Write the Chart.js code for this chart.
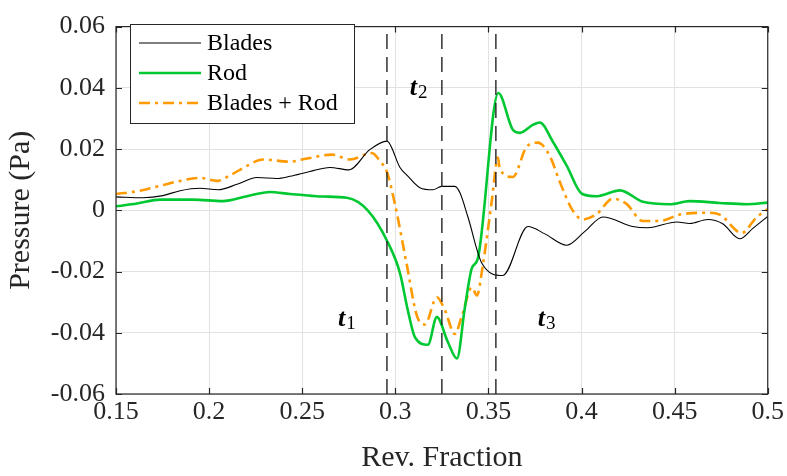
<!DOCTYPE html>
<html>
<head>
<meta charset="utf-8">
<script src="https://cdn.jsdelivr.net/npm/chart.js@4.4.1/dist/chart.umd.min.js"></script>
<style>
  html, body { margin: 0; padding: 0; background: #fff; }
  canvas { display: block; }
</style>
</head>
<body>
<canvas id="grafico" width="787" height="476"></canvas>
<script>
// Datos
const bladesX = [0.15, 0.1645, 0.1752, 0.1844, 0.1951, 0.2048, 0.2150, 0.2257, 0.2364, 0.2434, 0.2541, 0.2649, 0.2751, 0.2863, 0.2955, 0.3025, 0.3062, 0.3132, 0.3202, 0.3248, 0.3320, 0.3347, 0.3390, 0.3465, 0.3577, 0.3712, 0.3803, 0.3921, 0.4018, 0.4115, 0.4275, 0.4356, 0.4512, 0.4581, 0.4678, 0.4758, 0.4850, 0.4920, 0.5];
const bladesY = [0.0044, 0.0041, 0.0048, 0.0064, 0.0072, 0.0067, 0.0085, 0.0107, 0.0104, 0.0111, 0.0127, 0.0140, 0.0132, 0.0198, 0.0226, 0.0140, 0.0115, 0.0074, 0.0067, 0.0078, 0.0078, 0.0057, -0.0022, -0.0173, -0.0213, -0.0053, -0.0077, -0.0114, -0.0069, -0.0022, -0.0053, -0.0057, -0.0038, -0.0043, -0.0030, -0.0044, -0.0093, -0.0059, -0.0020];

const rodX = [0.15, 0.1613, 0.1736, 0.1913, 0.2074, 0.2203, 0.2327, 0.2434, 0.2541, 0.2611, 0.2740, 0.2853, 0.2960, 0.3025, 0.3067, 0.3105, 0.3175, 0.3223, 0.3282, 0.3331, 0.3373, 0.3411, 0.3443, 0.3553, 0.3631, 0.3669, 0.3738, 0.3776, 0.3846, 0.3921, 0.4002, 0.4082, 0.4206, 0.4329, 0.4474, 0.4581, 0.4742, 0.4887, 0.5];
const rodY = [0.0013, 0.0022, 0.0035, 0.0035, 0.0030, 0.0046, 0.0060, 0.0053, 0.0048, 0.0045, 0.0041, -0.0001, -0.0105, -0.0205, -0.0326, -0.0414, -0.0439, -0.0349, -0.0430, -0.0484, -0.0320, -0.0189, -0.0158, 0.0383, 0.0263, 0.0253, 0.0279, 0.0287, 0.0224, 0.0145, 0.0054, 0.0046, 0.0065, 0.0028, 0.0020, 0.0030, 0.0024, 0.0020, 0.0025];

const sumX = [0.15, 0.1629, 0.1736, 0.1844, 0.1951, 0.2042, 0.2112, 0.2203, 0.2289, 0.2434, 0.2525, 0.2660, 0.2756, 0.2874, 0.2917, 0.2955, 0.2998, 0.3062, 0.3116, 0.3159, 0.3223, 0.3266, 0.3320, 0.3357, 0.3411, 0.3438, 0.3470, 0.3518, 0.3551, 0.3561, 0.3631, 0.3706, 0.3765, 0.3830, 0.3883, 0.3953, 0.4007, 0.4082, 0.4168, 0.4243, 0.4329, 0.4420, 0.4528, 0.4673, 0.4742, 0.4860, 0.4941, 0.5];
const sumY = [0.0053, 0.0064, 0.0080, 0.0096, 0.0106, 0.0096, 0.0114, 0.0145, 0.0166, 0.0159, 0.0169, 0.0182, 0.0166, 0.0187, 0.0161, 0.0125, 0.0020, -0.0179, -0.0345, -0.0373, -0.0284, -0.0326, -0.0404, -0.0346, -0.0252, -0.0278, -0.0179, 0.0030, 0.0172, 0.0135, 0.0109, 0.0208, 0.0221, 0.0177, 0.0093, -0.0001, -0.0030, -0.0012, 0.0038, 0.0020, -0.0035, -0.0035, -0.0014, -0.0008, -0.0014, -0.0074, -0.0022, 0.0004];

const nombres = ["Blades", "Rod", "Blades + Rod"];
const xTicks = [0.15, 0.2, 0.25, 0.3, 0.35, 0.4, 0.45, 0.5];
const xTickLabels = ["0.15", "0.2", "0.25", "0.3", "0.35", "0.4", "0.45", "0.5"];
const yTicks = [-0.06, -0.04, -0.02, 0, 0.02, 0.04, 0.06];
const yTickLabels = ["-0.06", "-0.04", "-0.02", "0", "0.02", "0.04", "0.06"];

// Instantes marcados con lineas verticales
const tMarks = [0.2955, 0.325, 0.354];
const tNames = ["1", "2", "3"];
const tLabelX = [0.2692, 0.3078, 0.3765];
const tLabelY = [-0.0377, 0.0377, -0.0377];

const FONT = "'Liberation Serif', 'Times New Roman', serif";
const pares = (xs, ys) => xs.map((x, i) => ({ x: x, y: ys[i] }));

const datasets = [
  { label: nombres[0], data: pares(bladesX, bladesY), borderColor: "#000000", borderWidth: 1.1 },
  { label: nombres[1], data: pares(rodX, rodY), borderColor: "#00c832", borderWidth: 2.6 },
  { label: nombres[2], data: pares(sumX, sumY), borderColor: "#ff9a00", borderWidth: 2.6, borderDash: [11, 5, 3, 5] }
].map(d => Object.assign(d, { pointRadius: 0, fill: false, cubicInterpolationMode: "monotone" }));

tMarks.forEach(t => {
  datasets.push({
    label: "",
    data: [{ x: t, y: yTicks[0] }, { x: t, y: yTicks[yTicks.length - 1] }],
    borderColor: "#222222", borderWidth: 1.4, borderDash: [15, 8],
    pointRadius: 0, fill: false, order: -1
  });
});

// Caja, ticks interiores, etiquetas t y leyenda
const decoracion = {
  id: "decoracion",
  afterDatasetsDraw(chart) {
    const { ctx, chartArea: a, scales } = chart;
    ctx.save();
    ctx.strokeStyle = "#262626";
    ctx.lineWidth = 1.2;
    ctx.strokeRect(a.left, a.top, a.right - a.left, a.bottom - a.top);
    const L = 6;
    ctx.beginPath();
    xTicks.forEach(v => {
      const px = Math.round(scales.x.getPixelForValue(v)) + 0.5;
      ctx.moveTo(px, a.bottom); ctx.lineTo(px, a.bottom - L);
      ctx.moveTo(px, a.top); ctx.lineTo(px, a.top + L);
    });
    yTicks.forEach(v => {
      const py = Math.round(scales.y.getPixelForValue(v)) + 0.5;
      ctx.moveTo(a.left, py); ctx.lineTo(a.left + L, py);
      ctx.moveTo(a.right, py); ctx.lineTo(a.right - L, py);
    });
    ctx.stroke();

    // etiquetas t1, t2, t3
    ctx.fillStyle = "#000";
    ctx.textBaseline = "alphabetic";
    ctx.textAlign = "left";
    tNames.forEach((n, i) => {
      const px = scales.x.getPixelForValue(tLabelX[i]);
      const py = scales.y.getPixelForValue(tLabelY[i]);
      ctx.font = "italic bold 26px " + FONT;
      ctx.fillText("t", px, py);
      const w = ctx.measureText("t").width;
      ctx.font = "19px " + FONT;
      ctx.fillText(n, px + w + 1, py + 3);
    });

    // leyenda
    const bx = 130, by = 24, bw = 224, bh = 99;
    ctx.fillStyle = "#fff";
    ctx.fillRect(bx, by, bw, bh);
    ctx.strokeStyle = "#262626";
    ctx.lineWidth = 1;
    ctx.setLineDash([]);
    ctx.strokeRect(bx + 0.5, by + 0.5, bw, bh);
    ctx.font = "24px " + FONT;
    ctx.textBaseline = "middle";
    [0, 1, 2].forEach(i => {
      const d = chart.data.datasets[i];
      const yy = by + 19 + i * 30;
      ctx.strokeStyle = d.borderColor;
      ctx.lineWidth = d.borderWidth;
      ctx.setLineDash(d.borderDash || []);
      ctx.beginPath();
      ctx.moveTo(bx + 9, yy); ctx.lineTo(bx + 71, yy);
      ctx.stroke();
      ctx.setLineDash([]);
      ctx.fillStyle = "#000";
      ctx.fillText(d.label, bx + 77, yy + 1);
    });
    ctx.restore();
  }
};

const ctx = document.getElementById("grafico").getContext("2d");
new Chart(ctx, {
  type: "line",
  data: { datasets: datasets },
  plugins: [decoracion],
  options: {
    responsive: false,
    animation: false,
    devicePixelRatio: 1,
    layout: { padding: { top: 12, right: 17, bottom: 0, left: 0 } },
    plugins: { legend: { display: false }, tooltip: { enabled: false } },
    scales: {
      x: {
        type: "linear",
        min: 0.15, max: 0.5,
        afterBuildTicks: s => { s.ticks = xTicks.map(v => ({ value: v })); },
        afterFit: s => { s.height = 82; },
        ticks: {
          callback: (v, i) => xTickLabels[i],
          font: { family: FONT, size: 26 }, color: "#262626", padding: 3, maxRotation: 0
        },
        grid: { color: "#e2e2e2", lineWidth: 1, drawTicks: false },
        border: { display: false },
        title: { display: true, text: "Rev. Fraction", font: { family: FONT, size: 30 }, color: "#262626", padding: { top: 4, bottom: 0 } }
      },
      y: {
        type: "linear",
        min: -0.06, max: 0.06,
        afterBuildTicks: s => { s.ticks = yTicks.map(v => ({ value: v })); },
        afterFit: s => { s.width = 116; },
        ticks: {
          callback: (v, i) => yTickLabels[i],
          font: { family: FONT, size: 26 }, color: "#262626", padding: 11
        },
        grid: { color: "#e2e2e2", lineWidth: 1, drawTicks: false },
        border: { display: false },
        title: { display: true, text: "Pressure (Pa)", font: { family: FONT, size: 30 }, color: "#262626", padding: { top: 3, bottom: 0 } }
      }
    }
  }
});
</script>
</body>
</html>
